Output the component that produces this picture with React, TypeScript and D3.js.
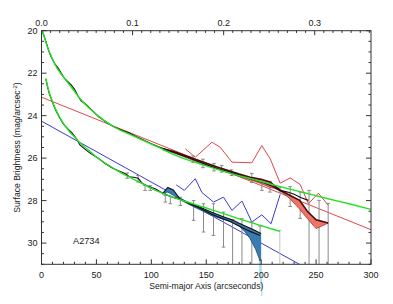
import { useEffect, useRef } from 'react';
import * as d3 from 'd3';

type Pt = [number, number];

// axis ticks
const xTickLabels = [0, 50, 100, 150, 200, 250, 300];
const yTickLabels = [20, 22, 24, 26, 28, 30];
const topTickLabels = [0, 0.1, 0.2, 0.3];
const mpcPerArcsec = 0.001206;

// inner (brighter) profile, arcsec vs mag/arcsec^2
const upperProfile: Pt[] = [
  [0, 19.98], [2, 20.2], [4, 20.5], [6, 20.85], [8, 21.15], [10, 21.35], [12, 21.55], [15, 21.75],
  [18, 22.0], [21, 22.25], [24, 22.4], [27, 22.55], [30, 22.75], [33, 23.05], [36, 23.3], [40, 23.45],
  [44, 23.65], [48, 23.85], [52, 24.05], [56, 24.2], [60, 24.35], [65, 24.5], [70, 24.62], [75, 24.72],
  [80, 24.82], [86, 24.98], [92, 25.12], [99, 25.3], [106, 25.45], [113, 25.58], [120, 25.72],
  [127, 25.85], [134, 25.98], [141, 26.12], [148, 26.26], [155, 26.4], [162, 26.52], [169, 26.62],
  [176, 26.72], [183, 26.86], [190, 26.98], [197, 27.08], [204, 27.2], [210, 27.33], [217, 27.52],
  [224, 27.6], [230, 27.7], [236, 27.85], [243, 27.99],
];

const upperFit: Pt[] = [
  [0.5, 19.98], [2, 20.2], [4, 20.55], [6, 20.85], [8, 21.1], [11, 21.45], [14, 21.75], [17, 21.98],
  [20, 22.18], [24, 22.45], [28, 22.72], [32, 23.0], [36, 23.25], [40, 23.47], [45, 23.72], [50, 23.95],
  [57, 24.22], [65, 24.5], [74, 24.74], [83, 24.94], [92, 25.15], [101, 25.36], [110, 25.58],
  [125, 25.93], [140, 26.2], [155, 26.45], [170, 26.68], [185, 26.9], [200, 27.1], [220, 27.38],
  [240, 27.64], [260, 27.9], [280, 28.15], [300, 28.42],
];

// outer (fainter) profile
const lowerProfile: Pt[] = [
  [4, 22.27], [5.5, 22.65], [7, 22.95], [9.5, 23.3], [12.5, 23.7], [16, 24.05], [20, 24.4], [24, 24.62],
  [28, 24.82], [32, 25.1], [35, 25.38], [39, 25.55], [43, 25.72], [47, 25.85], [52, 26.02], [58, 26.25],
  [64, 26.45], [70, 26.6], [76, 26.72], [80, 26.88], [84, 26.9], [88, 26.95], [92, 27.2], [96, 27.3],
  [100, 27.38], [104, 27.45], [108, 27.58], [114, 27.72], [120, 27.85], [126, 27.93], [131, 28.05],
  [136, 28.18], [142, 28.3], [148, 28.45], [154, 28.62], [160, 28.75], [166, 28.87], [172, 29.0],
  [178, 29.15], [184, 29.3], [190, 29.45], [199, 29.64],
];

const lowerFit: Pt[] = [
  [4, 22.25], [5.5, 22.6], [7, 22.9], [9, 23.2], [12, 23.6], [15, 23.92], [20, 24.38], [25, 24.72],
  [30, 25.0], [35, 25.28], [40, 25.5], [45, 25.72], [50, 25.95], [60, 26.3], [70, 26.62], [80, 26.9],
  [90, 27.15], [100, 27.42], [110, 27.65], [120, 27.85], [135, 28.1], [150, 28.35], [165, 28.6],
  [180, 28.86], [200, 29.18], [217, 29.45],
];

// straight-line (exponential) components
const redLine: Pt[] = [[0, 23.13], [300, 29.37]];
const blueLine: Pt[] = [[0, 24.26], [300, 32.87]];

// jagged background-like curves
const redJagged: Pt[] = [
  [130.9, 25.56], [140, 25.96], [155.2, 25.25], [162.7, 25.49], [173.4, 26.19], [191.5, 26.22],
  [200.6, 25.41], [208.2, 26.03], [217.3, 27.18], [226.4, 26.93], [235.5, 27.24], [243, 28.15],
  [252.1, 27.65], [261.2, 28.23],
];
const blueJagged: Pt[] = [
  [122.7, 27.26], [130, 27.52], [140, 26.97], [146.1, 27.62], [156.6, 28.07], [165.7, 27.84],
  [173.4, 28.46], [182.5, 28.02], [191.5, 29.01], [200.6, 28.67], [209, 29.09], [217.3, 27.71],
];

// sky uncertainty bands
const redBandX = [110, 120, 140, 160, 180, 190, 200, 208, 212, 217, 226, 235, 242, 250, 261];
const redBandUpper = [25.56, 25.68, 26.05, 26.42, 26.75, 26.9, 27.0, 27.12, 27.3, 27.5, 27.75, 27.99, 28.5, 28.9, 29.06];
const redBandLower = [25.6, 25.75, 26.14, 26.52, 26.86, 27.02, 27.2, 27.38, 27.42, 27.53, 27.9, 28.4, 28.84, 29.32, 29.06];

const blueBandX = [110, 115, 120, 126, 135, 145, 155, 165, 174, 180, 185, 190, 195, 198, 200];
const blueBandUpper = [27.68, 27.38, 27.5, 27.92, 28.12, 28.33, 28.55, 28.75, 28.92, 29.07, 29.18, 29.3, 29.42, 29.5, 29.55];
const blueBandLower = [27.7, 27.6, 27.75, 27.95, 28.2, 28.45, 28.7, 28.88, 29.0, 29.2, 29.45, 29.8, 30.3, 30.7, 31.05];
const blueTail: Pt[] = [[197.6, 30.85], [200.6, 30.85], [201.1, 32.5], [200.0, 32.5]];

// error bars: [arcsec, bright end, faint end]
const upperErrors: [number, number, number][] = [
  [138, 25.9, 26.2], [147, 26.05, 26.45], [157, 26.25, 26.6], [164, 26.35, 26.66], [173, 26.55, 26.82],
  [191.5, 26.72, 27.15], [200.6, 27.05, 27.52], [208, 27.1, 27.6], [217, 27.4, 27.6], [226.4, 27.34, 28.28],
  [235.5, 27.6, 28.84], [243.6, 27.52, 31], [252.7, 27.99, 31], [261, 28.13, 31],
];
const lowerErrors: [number, number, number][] = [
  [78, 26.7, 26.95], [88, 26.82, 27.13], [94.3, 27.29, 27.52], [99, 27.3, 27.52], [112.7, 27.76, 28.07],
  [117.3, 27.8, 28.15], [126.4, 27.84, 28.23], [138.5, 28.0, 28.93], [147.5, 28.15, 29.48],
  [156.6, 28.15, 29.64], [165.7, 28.54, 30.19], [174, 28.9, 31], [182.5, 28.85, 31], [191.5, 29.0, 31],
  [199, 29.2, 31], [217, 29.4, 31],
];

export default function App() {
  const svgRef = useRef<SVGSVGElement>(null);

  useEffect(() => {
    if (!svgRef.current) return;
    document.body.style.margin = '0';
    const svg = d3.select(svgRef.current);
    svg.selectAll('*').remove();

    const left = 41.5, right = 371, top = 30.7, bottom = 264.3;
    const x = d3.scaleLinear().domain([0, 300]).range([left, right]);
    const y = d3.scaleLinear().domain([20, 31]).range([top, bottom]);
    const xTop = d3.scaleLinear().domain([0, 300 * mpcPerArcsec]).range([left, right]);
    const font = 'Liberation Sans, Arial, sans-serif';

    svg.append('rect').attr('width', 393).attr('height', 304).attr('fill', '#fff');

    svg.append('defs').append('clipPath').attr('id', 'plot')
      .append('rect').attr('x', left).attr('y', top)
      .attr('width', right - left).attr('height', bottom - top);

    const plot = svg.append('g').attr('clip-path', 'url(#plot)');
    const line = d3.line<Pt>().x(d => x(d[0])).y(d => y(d[1]));
    const fitLine = d3.line<Pt>().x(d => x(d[0])).y(d => y(d[1])).curve(d3.curveMonotoneX);

    // straight components
    plot.append('path').attr('d', line(redLine)).attr('fill', 'none').attr('stroke', '#e04848').attr('stroke-width', 1);
    plot.append('path').attr('d', line(blueLine)).attr('fill', 'none').attr('stroke', '#3a3ad0').attr('stroke-width', 1);

    // jagged curves
    plot.append('path').attr('d', line(redJagged)).attr('fill', 'none').attr('stroke', '#e04848').attr('stroke-width', 1);
    plot.append('path').attr('d', line(blueJagged)).attr('fill', 'none').attr('stroke', '#3a3ad0').attr('stroke-width', 1);

    // error bars
    const drawErrors = (data: [number, number, number][], color: string) => {
      const g = plot.append('g').attr('stroke', color).attr('stroke-width', 1);
      data.forEach(([xv, lo, hi]) => {
        const cx = x(xv);
        g.append('line').attr('x1', cx).attr('x2', cx).attr('y1', y(lo)).attr('y2', y(hi));
        g.append('line').attr('x1', cx - 1.8).attr('x2', cx + 1.8).attr('y1', y(lo)).attr('y2', y(lo));
        if (hi < 31) g.append('line').attr('x1', cx - 1.8).attr('x2', cx + 1.8).attr('y1', y(hi)).attr('y2', y(hi));
      });
    };
    drawErrors(upperErrors, '#8a8a8a');
    drawErrors(lowerErrors.slice(0, -1), '#8a8a8a');
    drawErrors(lowerErrors.slice(-1), '#c4c4c4');

    // red band
    const redBand = redBandX.map((xv, i) => ({ x: xv, u: redBandUpper[i], l: redBandLower[i] }));
    const bandArea = d3.area<{ x: number; u: number; l: number }>()
      .x(d => x(d.x)).y0(d => y(d.u)).y1(d => y(d.l));
    plot.append('path').attr('d', bandArea(redBand)).attr('fill', '#ee7464').attr('stroke', 'none');
    plot.append('path').attr('d', line(redBand.map(d => [d.x, d.l] as Pt)))
      .attr('fill', 'none').attr('stroke', '#a83030').attr('stroke-width', 0.8);
    plot.append('path').attr('d', line(redBand.map(d => [d.x, d.u] as Pt)))
      .attr('fill', 'none').attr('stroke', '#4a0c0c').attr('stroke-width', 1.6);

    // blue band
    const blueBand = blueBandX.map((xv, i) => ({ x: xv, u: blueBandUpper[i], l: blueBandLower[i] }));
    plot.append('path').attr('d', bandArea(blueBand)).attr('fill', '#3a7cb2').attr('stroke', 'none');
    plot.append('path').attr('d', line(blueBand.map(d => [d.x, d.l] as Pt)))
      .attr('fill', 'none').attr('stroke', '#1c4a78').attr('stroke-width', 0.8);
    plot.append('path').attr('d', line(blueBand.map(d => [d.x, d.u] as Pt)))
      .attr('fill', 'none').attr('stroke', '#111').attr('stroke-width', 1.1);
    svg.append('path').attr('d', line(blueTail) + 'Z').attr('fill', '#b6e2ea').attr('stroke', 'none');

    // profiles
    plot.append('path').attr('d', line(upperProfile)).attr('fill', 'none').attr('stroke', '#111').attr('stroke-width', 1.1);
    plot.append('path').attr('d', line(lowerProfile)).attr('fill', 'none').attr('stroke', '#111').attr('stroke-width', 1.1);

    // fits
    plot.append('path').attr('d', fitLine(upperFit)).attr('fill', 'none').attr('stroke', '#22e022').attr('stroke-width', 1.4);
    plot.append('path').attr('d', fitLine(lowerFit)).attr('fill', 'none').attr('stroke', '#22e022').attr('stroke-width', 1.4);

    // axes box
    const axes = svg.append('g').attr('stroke', '#333').attr('stroke-width', 1);
    axes.append('rect').attr('x', left).attr('y', top).attr('width', right - left).attr('height', bottom - top).attr('fill', 'none');

    x.ticks(30).forEach(t => {
      const len = t % 50 === 0 ? 5 : 2.5;
      axes.append('line').attr('x1', x(t)).attr('x2', x(t)).attr('y1', bottom).attr('y2', bottom - len);
    });
    xTop.ticks(36).forEach(t => {
      const major = Math.abs(t * 10 - Math.round(t * 10)) < 1e-6;
      const len = major ? 4.5 : 2.2;
      axes.append('line').attr('x1', xTop(t)).attr('x2', xTop(t)).attr('y1', top).attr('y2', top + len);
    });
    y.ticks(22).forEach(t => {
      const major = t % 2 === 0;
      const len = major ? 5 : 2.5;
      axes.append('line').attr('x1', left).attr('x2', left + len).attr('y1', y(t)).attr('y2', y(t));
      axes.append('line').attr('x1', right).attr('x2', right - len).attr('y1', y(t)).attr('y2', y(t));
    });

    const labels = svg.append('g').attr('font-family', font).attr('font-size', 9).attr('fill', '#222');
    xTickLabels.forEach(t => {
      labels.append('text').attr('x', x(t)).attr('y', 277.5).attr('text-anchor', 'middle').text(t);
    });
    topTickLabels.forEach(t => {
      labels.append('text').attr('x', xTop(t)).attr('y', 26).attr('text-anchor', 'middle').text(t.toFixed(1));
    });
    yTickLabels.forEach(t => {
      labels.append('text').attr('x', 37.5).attr('y', y(t) + 3.3).attr('text-anchor', 'end').text(t);
    });

    labels.append('text').attr('x', (left + right) / 2).attr('y', 289).attr('text-anchor', 'middle')
      .attr('font-size', 8.6).text('Semi-major Axis (arcseconds)');

    const yt = labels.append('text').attr('transform', `translate(20,${(top + bottom) / 2}) rotate(-90)`)
      .attr('text-anchor', 'middle').attr('font-size', 8.6);
    yt.append('tspan').text('Surface Brightness (mag/arcsec');
    yt.append('tspan').attr('font-size', 6).attr('dy', -3.5).text('-2');
    yt.append('tspan').attr('dy', 3.5).text(')');

    labels.append('text').attr('x', 73).attr('y', 244).attr('font-size', 9.2).text('A2734');
  }, []);

  return <svg ref={svgRef} width={393} height={304} style={{ display: 'block' }} />;
}
